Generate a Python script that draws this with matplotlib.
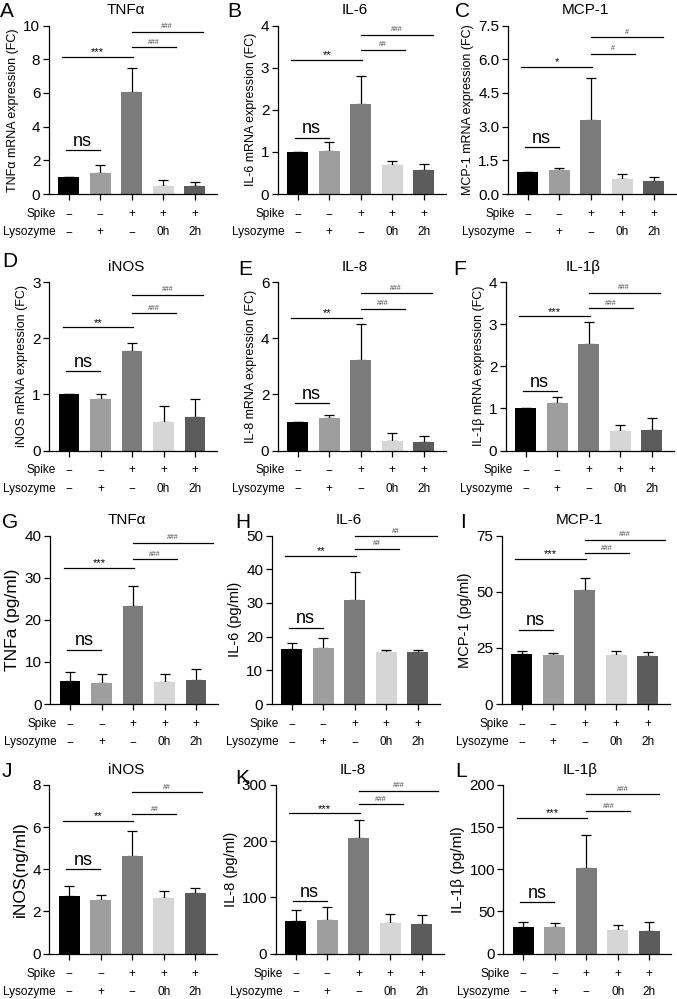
import matplotlib
matplotlib.use("Agg")
import matplotlib.pyplot as plt
import numpy as np

plt.rcParams['font.family'] = ['Liberation Sans', 'DejaVu Sans']

# Данные панелей A-L
letters = ["A", "B", "C", "D", "E", "F", "G", "H", "I", "J", "K", "L"]
titles = ["TNFα", "IL-6", "MCP-1", "iNOS", "IL-8", "IL-1β",
          "TNFα", "IL-6", "MCP-1", "iNOS", "IL-8", "IL-1β"]
ylabels = ["TNFα mRNA expression (FC)", "IL-6 mRNA expression (FC)",
           "MCP-1 mRNA expression (FC)", "iNOS mRNA expression (FC)",
           "IL-8 mRNA expression (FC)", "IL-1β mRNA expression (FC)",
           "TNFa (pg/ml)", "IL-6 (pg/ml)", "MCP-1 (pg/ml)",
           "iNOS(ng/ml)", "IL-8 (pg/ml)", "IL-1β (pg/ml)"]

mean_A = [1.0, 1.22, 6.05, 0.5, 0.48]
sd_A = [0, 0.5, 1.45, 0.33, 0.22]
mean_B = [1.0, 1.02, 2.14, 0.69, 0.58]
sd_B = [0, 0.22, 0.66, 0.09, 0.14]
mean_C = [1.0, 1.08, 3.28, 0.65, 0.6]
sd_C = [0, 0.09, 1.87, 0.22, 0.17]
mean_D = [1.0, 0.91, 1.78, 0.51, 0.59]
sd_D = [0, 0.09, 0.14, 0.28, 0.33]
mean_E = [1.0, 1.15, 3.22, 0.33, 0.3]
sd_E = [0, 0.13, 1.28, 0.29, 0.2]
mean_F = [1.0, 1.12, 2.52, 0.46, 0.49]
sd_F = [0, 0.15, 0.53, 0.15, 0.28]
mean_G = [5.5, 5.1, 23.2, 5.3, 5.7]
sd_G = [2.1, 2.0, 4.9, 1.8, 2.6]
mean_H = [16.2, 16.7, 31.0, 15.3, 15.5]
sd_H = [1.8, 3.0, 8.3, 0.7, 0.5]
mean_I = [22.3, 21.9, 50.8, 22.0, 21.5]
sd_I = [1.2, 0.6, 5.4, 1.8, 1.5]
mean_J = [2.72, 2.52, 4.62, 2.62, 2.85]
sd_J = [0.48, 0.28, 1.21, 0.35, 0.25]
mean_K = [58, 60, 205, 54, 52]
sd_K = [19, 22, 33, 17, 16]
mean_L = [32, 32, 101, 28, 27]
sd_L = [5, 4.5, 40, 5.5, 10]

means = [mean_A, mean_B, mean_C, mean_D, mean_E, mean_F,
         mean_G, mean_H, mean_I, mean_J, mean_K, mean_L]
sds = [sd_A, sd_B, sd_C, sd_D, sd_E, sd_F,
       sd_G, sd_H, sd_I, sd_J, sd_K, sd_L]

yticks = [[0, 2, 4, 6, 8, 10], [0, 1, 2, 3, 4], [0, 1.5, 3, 4.5, 6, 7.5],
          [0, 1, 2, 3], [0, 2, 4, 6], [0, 1, 2, 3, 4],
          [0, 10, 20, 30, 40], [0, 10, 20, 30, 40, 50], [0, 25, 50, 75],
          [0, 2, 4, 6, 8], [0, 100, 200, 300], [0, 50, 100, 150, 200]]

star_text = ["***", "**", "*", "**", "**", "***", "***", "**", "***", "**", "***", "***"]
short_text = ["###", "##", "#", "###", "###", "###", "###", "##", "###", "##", "###", "###"]
long_text = ["###", "###", "#", "###", "###", "###", "###", "##", "###", "##", "###", "###"]

spike = ["−", "−", "+", "+", "+"]
lysozyme = ["−", "+", "−", "0h", "2h"]

colors = ["#000000", "#9e9e9e", "#7b7b7b", "#d6d6d6", "#5c5c5c"]

# Раскладка (пиксели)
W, H = 677, 999
first_bar = [68.7, 297.7, 527.7, 69, 297.7, 525.7, 70, 291.7, 521.7, 69.3, 295.7, 523.3]
row_top = [25.5, 25.5, 25.5, 282, 282, 282, 535.5, 535.5, 535.5, 785, 785, 785]
letter_pos = [(0, 2), (227, 2), (455, 2), (2, 252), (238, 260), (453, 260),
              (2, 513), (235, 513), (460, 513), (2, 762), (235, 769), (455, 762)]
# уровни скобок (доля высоты осей): ns, *, короткая #, длинная #
levels = [(0.259, 0.813, 0.87, 0.964), (0.335, 0.798, 0.856, 0.945),
          (0.28, 0.753, 0.832, 0.931), (0.47, 0.731, 0.816, 0.925),
          (0.283, 0.786, 0.841, 0.935), (0.354, 0.796, 0.845, 0.937),
          (0.323, 0.808, 0.86, 0.958), (0.453, 0.877, 0.921, 0.996),
          (0.442, 0.861, 0.896, 0.976), (0.501, 0.787, 0.828, 0.957),
          (0.31, 0.832, 0.885, 0.967), (0.307, 0.804, 0.846, 0.944)]
long_end = [4.25, 4.3, 4.3, 4.25, 4.25, 4.25, 4.55, 4.6, 4.55, 4.2, 4.53, 4.32]
ylabel_size = [9, 9, 9, 9, 9, 9, 12.5, 10.5, 10.5, 12.5, 10.5, 11]

spacing = 31.5
ax_w, ax_h = 168, 168.5

fig = plt.figure(figsize=(W / 100, H / 100), dpi=100)

for i in range(12):
    left = first_bar[i] - 20
    ax = fig.add_axes([left / W, 1 - (row_top[i] + ax_h) / H, ax_w / W, ax_h / H])
    x = np.arange(5)
    ax.bar(x, means[i], width=0.66, color=colors, zorder=2)
    ax.errorbar(x, means[i], yerr=[np.zeros(5), sds[i]], fmt='none', ecolor='black',
                elinewidth=0.9, capsize=3.8, capthick=0.9, zorder=1)
    ax.set_xlim(-20 / spacing, 4 + 22 / spacing)
    ax.set_ylim(yticks[i][0], yticks[i][-1])
    ax.set_yticks(yticks[i])
    if i == 2:
        ax.set_yticklabels([f"{t:.1f}" for t in yticks[i]])
    ax.set_xticks(x)
    ax.set_xticklabels([])
    for s in ["top", "right"]:
        ax.spines[s].set_visible(False)
    for s in ["left", "bottom"]:
        ax.spines[s].set_linewidth(0.9)
    ax.tick_params(direction='out', length=4.5, width=0.9, labelsize=11, pad=1.5)
    ax.set_ylabel(ylabels[i], fontsize=ylabel_size[i], labelpad=3)
    ax.set_title(titles[i], fontsize=11, x=0.46, pad=8)

    # строки Spike / Lysozyme
    tr = ax.get_xaxis_transform()
    ax.annotate("Spike", xy=(-0.42, 0), xycoords=tr, xytext=(0, -14.4),
                textcoords='offset points', ha='right', va='center', fontsize=8.5,
                annotation_clip=False)
    ax.annotate("Lysozyme", xy=(-0.42, 0), xycoords=tr, xytext=(0, -27.4),
                textcoords='offset points', ha='right', va='center', fontsize=8.5,
                annotation_clip=False)
    for j in range(5):
        ax.annotate(spike[j], xy=(j, 0), xycoords=tr, xytext=(0, -14.4),
                    textcoords='offset points', ha='center', va='center', fontsize=8.5,
                    annotation_clip=False)
        ax.annotate(lysozyme[j], xy=(j, 0), xycoords=tr, xytext=(0, -27.4),
                    textcoords='offset points', ha='center', va='center', fontsize=8.5,
                    annotation_clip=False)

    # скобки значимости
    ns_y, st_y, sh_y, lg_y = levels[i]
    ax.plot([-0.1, 0.98], [ns_y, ns_y], color='black', lw=0.9, transform=tr, clip_on=False)
    ax.text(0.44, ns_y + 0.025, "ns", transform=tr, ha='center', va='baseline', fontsize=13)
    ax.plot([-0.2, 2.03], [st_y, st_y], color='black', lw=0.9, transform=tr, clip_on=False)
    ax.text(0.92, st_y + 0.01, star_text[i], transform=tr, ha='center', va='baseline', fontsize=8)
    ax.plot([2.0, 3.4], [sh_y, sh_y], color='black', lw=0.9, transform=tr, clip_on=False)
    ax.text(2.7, sh_y + 0.02, short_text[i], transform=tr, ha='center', va='baseline',
            fontsize=5, color='#444444')
    ax.plot([2.0, long_end[i]], [lg_y, lg_y], color='black', lw=0.9, transform=tr, clip_on=False)
    ax.text((2.0 + long_end[i]) / 2, lg_y + 0.02, long_text[i], transform=tr, ha='center',
            va='baseline', fontsize=5, color='#444444')

    lx, ly = letter_pos[i]
    fig.text(lx / W, 1 - ly / H, letters[i], fontsize=15, ha='left', va='top')

fig.savefig("out.png", dpi=100)
